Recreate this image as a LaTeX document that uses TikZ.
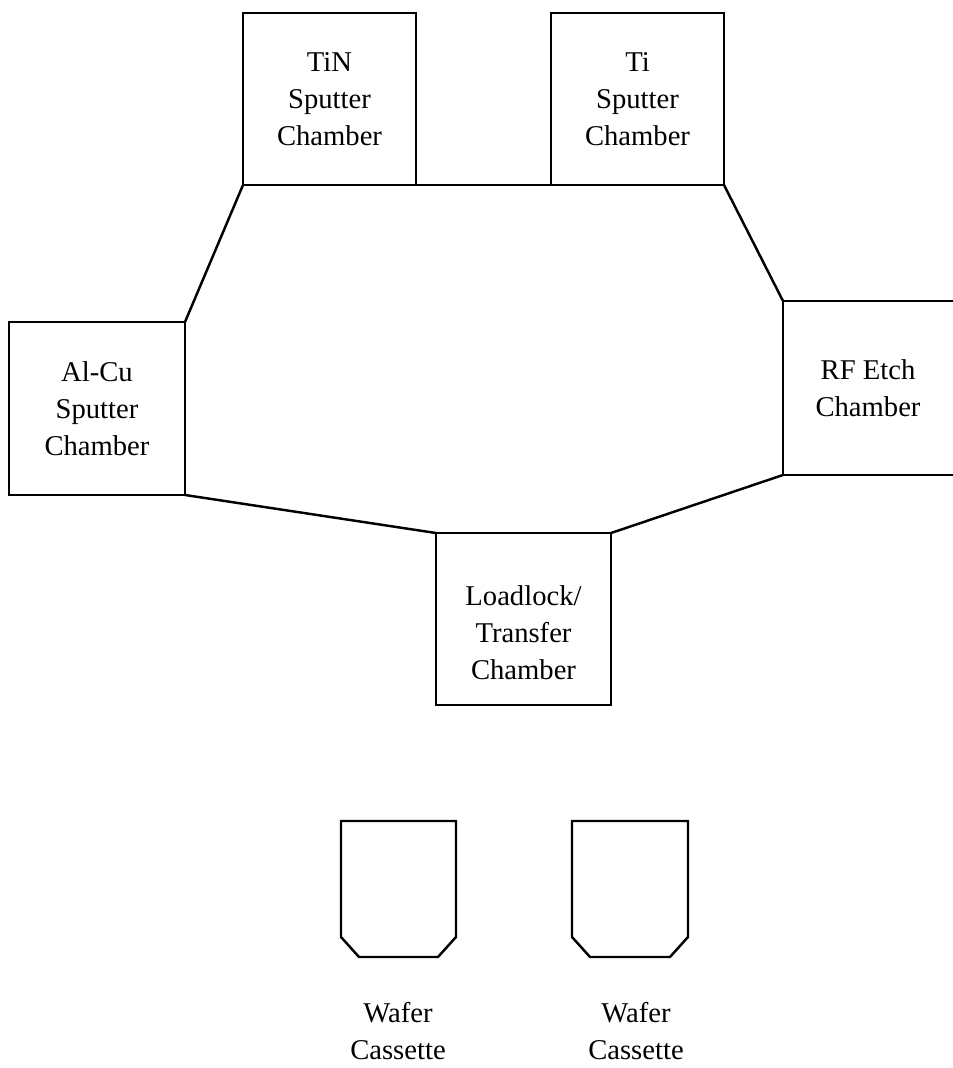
\documentclass[tikz,border=0pt]{standalone}
\usepackage{fontspec}
\setmainfont{Liberation Serif}
\usepackage{tikz}
\usetikzlibrary{positioning}

\begin{document}
\begin{tikzpicture}[
    x=0.02cm, y=-0.02cm,
    chamber/.style={rectangle, draw=black, line width=1.4pt, outer sep=0pt, inner sep=0pt, align=center, font=\fontsize{16.3}{21}\selectfont},
    wall/.style={line width=1.4pt, line join=miter},
    label/.style={align=center, font=\fontsize{16.3}{21}\selectfont}
]
\useasboundingbox (0,0) rectangle (953,1068);

% Chambers
\node[chamber, minimum width=3.46cm, minimum height=3.44cm] (tin) at (329.5,99) {TiN\\Sputter\\Chamber};
\node[chamber, minimum width=3.46cm, minimum height=3.44cm] (ti) at (637.5,99) {Ti\\Sputter\\Chamber};
\node[chamber, minimum width=3.52cm, minimum height=3.46cm] (alcu) at (97,408.5) {Al-Cu\\Sputter\\Chamber};
\node[chamber, draw=none, minimum width=3.4cm, minimum height=3.48cm] (rfetch) at (868,388) {RF Etch\\Chamber};
\node[chamber, minimum width=3.5cm, minimum height=3.44cm] (loadlock) at (523.5,619) {\\[6pt]Loadlock/\\Transfer\\Chamber};

% RF etch box runs off the right edge
\draw[wall] (rfetch.north east) -- (rfetch.north west) -- (rfetch.south west) -- (rfetch.south east);

% Transfer chamber outline
\draw[wall] (tin.south east) -- (ti.south west);
\draw[wall] (tin.south west) -- (alcu.north east);
\draw[wall] (ti.south east) -- (rfetch.north west);
\draw[wall] (alcu.south east) -- (loadlock.north west);
\draw[wall] (rfetch.south west) -- (loadlock.north east);

% Wafer cassettes
\draw[wall] (341,821) -- (456,821) -- (456,937) -- (438,957) -- (359,957) -- (341,937) -- cycle;
\draw[wall] (572,821) -- (688,821) -- (688,937) -- (670,957) -- (590,957) -- (572,937) -- cycle;
\node[label] (cassetteA) at (398,1031) {Wafer\\Cassette};
\node[label] (cassetteB) at (636,1031) {Wafer\\Cassette};
\end{tikzpicture}
\end{document}
